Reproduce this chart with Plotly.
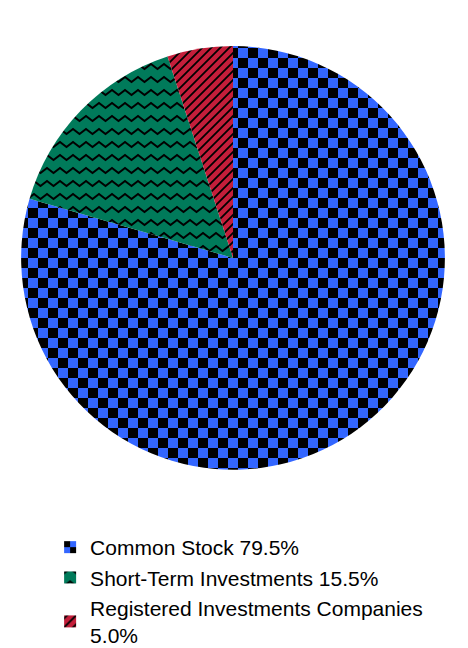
import plotly.graph_objects as go

labels = ["Common Stock 79.5%", "Short-Term Investments 15.5%",
          "Registered Investments Companies<br>5.0%"]
values = [79.5, 15.5, 5.0]
colors = ["#3366ff", "#007a5a", "#c41e3a"]
shapes = ["+", "x", "/"]

fig = go.Figure(go.Pie(
    labels=labels,
    values=values,
    sort=False,
    direction="clockwise",
    rotation=0,
    textinfo="none",
    hoverinfo="label",
    marker=dict(
        colors=colors,
        line=dict(width=0),
        pattern=dict(shape=shapes, fgcolor="black", bgcolor=colors,
                     fillmode="replace", size=10, solidity=0.3),
    ),
    domain=dict(x=[0.0256, 0.936], y=[0.284, 0.941]),
))

fig.update_layout(
    width=468, height=648,
    margin=dict(l=0, r=0, t=0, b=0),
    paper_bgcolor="white",
    font=dict(family="Liberation Sans, Arial", size=21, color="black"),
    legend=dict(x=0.09, y=0.195, xanchor="left", yanchor="top",
                itemwidth=30, tracegroupgap=0),
)

# swap in own tiles, plotly has no checker or zigzag pattern shapes
post = """
var gd = document.querySelector('.plotly-graph-div');
function fixPatterns(){
  var ns = 'http://www.w3.org/2000/svg';
  function add(p, tag, attrs){
    var el = document.createElementNS(ns, tag);
    for(var k in attrs) el.setAttribute(k, attrs[k]);
    p.appendChild(el);
  }
  document.querySelectorAll('pattern').forEach(function(p){
    var bg = p.querySelector('rect');
    if(!bg) return;
    var fill = (bg.getAttribute('fill') || bg.style.fill || '').replace(/\\s/g,'');
    var kind = null;
    if(fill.indexOf('51,102,255') >= 0 || fill == '#3366ff') kind = 'blue';
    if(fill.indexOf('0,122,90') >= 0 || fill == '#007a5a') kind = 'green';
    if(fill.indexOf('196,30,58') >= 0 || fill == '#c41e3a') kind = 'red';
    if(!kind) return;
    while(p.childNodes.length > 1) p.removeChild(p.lastChild);
    var w = {blue: 20, green: 13, red: 9}[kind];
    var h = w;
    p.setAttribute('width', w); p.setAttribute('height', h);
    p.removeAttribute('viewBox');
    bg.setAttribute('width', w); bg.setAttribute('height', h);
    bg.setAttribute('x', 0); bg.setAttribute('y', 0);
    if(kind == 'blue'){
      add(p, 'rect', {x:0, y:0, width:10, height:10, fill:'black'});
      add(p, 'rect', {x:10, y:10, width:10, height:10, fill:'black'});
    } else if(kind == 'green'){
      add(p, 'path', {d:'M-3.25,6.5 L0,4 L6.5,9 L13,4 L16.25,6.5', fill:'none',
                      stroke:'black', 'stroke-width':2});
    } else {
      add(p, 'path', {d:'M-1,10 L10,-1 M-1,1 L1,-1 M8,10 L10,8', fill:'none',
                      stroke:'black', 'stroke-width':1.8});
    }
  });
}
fixPatterns();
gd.on('plotly_afterplot', fixPatterns);
"""

fig.write_html("out.html", post_script=post)
